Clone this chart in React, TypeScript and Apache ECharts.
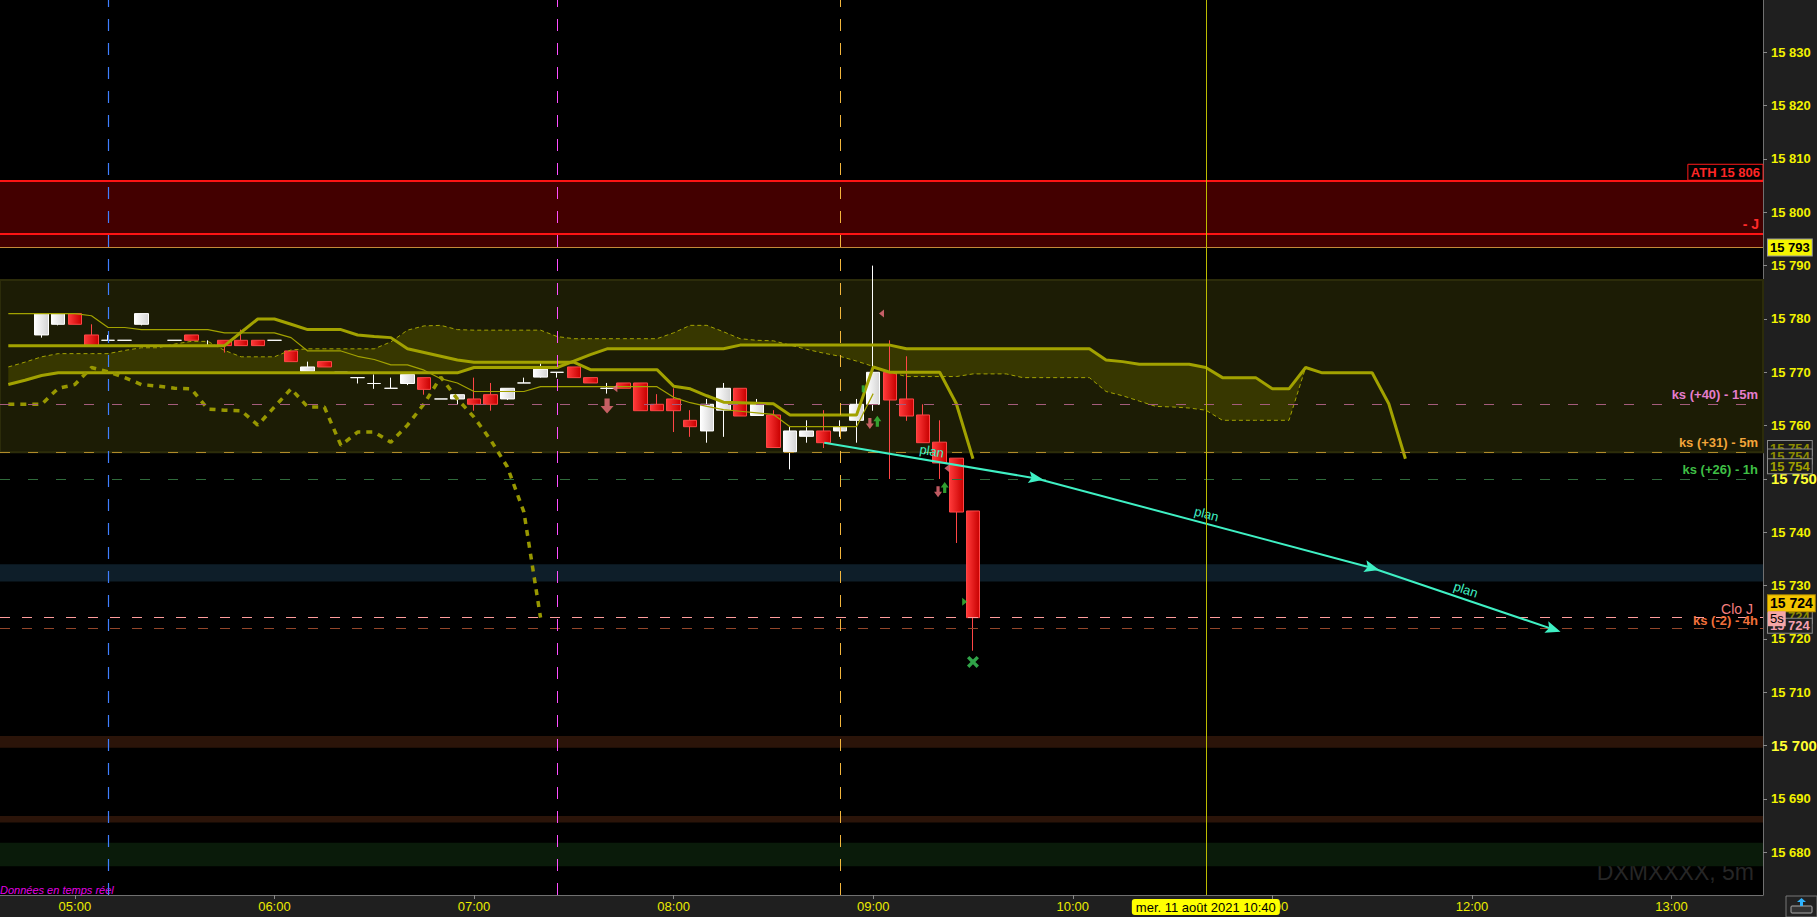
import React, { useEffect, useRef } from "react";
import * as echarts from "echarts";

// ---------------- data ----------------
const FIRST_SLOT = "04:40";
const SLOT_MINUTES = 5;
const SLOT_COUNT = 106;
const HOUR_LABELS = ["05:00", "06:00", "07:00", "08:00", "09:00", "10:00", "11:00", "12:00", "13:00"];
const Y_MIN = 15672;
const Y_MAX = 15839.8;
const EMPH_TICKS = [15700, 15750];

// candles [open, close, low, high] every 5 minutes from CANDLE_START
const CANDLE_START = "04:50";
const CANDLES: number[][] = [
  [15777, 15781, 15776.5, 15781],
  [15779, 15781, 15778.8, 15781],
  [15781, 15779, 15779, 15781],
  [15777, 15775, 15775, 15779],
  [15776, 15776, 15776, 15777],
  [15776, 15776, 15776, 15776],
  [15779, 15781, 15778.8, 15781],
  [15775, 15775, 15775, 15775],
  [15776, 15776, 15776, 15776],
  [15777, 15776, 15776, 15777],
  [15775, 15775, 15775, 15776],
  [15776, 15775, 15773.7, 15776],
  [15776, 15775, 15775, 15778],
  [15776, 15775, 15775, 15776],
  [15776, 15776, 15776, 15776],
  [15774, 15772, 15772, 15774],
  [15770.2, 15771, 15770.2, 15772],
  [15772, 15771, 15771, 15772],
  [15770, 15770, 15770, 15770],
  [15769, 15769, 15767.9, 15769],
  [15767.9, 15767.9, 15766.9, 15769.6],
  [15767, 15767, 15767, 15769],
  [15767.9, 15769.6, 15767.6, 15769.6],
  [15769, 15766.8, 15765.8, 15769],
  [15765, 15765, 15765, 15765],
  [15765, 15765.8, 15764, 15765.8],
  [15765, 15764, 15762.8, 15769],
  [15765.8, 15764, 15762.8, 15768],
  [15765, 15767, 15764.8, 15767],
  [15768, 15768, 15768, 15769],
  [15769.1, 15770.6, 15769, 15771.7],
  [15770, 15770, 15769, 15770],
  [15771, 15769, 15769, 15771],
  [15769, 15768, 15768, 15769],
  [15767, 15767, 15766, 15768],
  [15768, 15767, 15767, 15768],
  [15768, 15762.8, 15762.8, 15768],
  [15764, 15762.8, 15762.8, 15765.9],
  [15765, 15762.8, 15758.8, 15767],
  [15761, 15759.8, 15757.9, 15762.9],
  [15759, 15764, 15756.8, 15765],
  [15762.9, 15767, 15757.9, 15768],
  [15767, 15761.8, 15761.8, 15767],
  [15761.9, 15764, 15761.9, 15765],
  [15762, 15755.9, 15755.9, 15762.9],
  [15755.1, 15759, 15751.8, 15759.8],
  [15758, 15759, 15756.8, 15761],
  [15759, 15756.8, 15755.8, 15762.9],
  [15759, 15759.8, 15757.9, 15761],
  [15761, 15764, 15756.8, 15765],
  [15764, 15770, 15762.8, 15790],
  [15770, 15764.8, 15750, 15776],
  [15765, 15761.8, 15760.9, 15773],
  [15762, 15756.8, 15756.8, 15764],
  [15756.9, 15753, 15750, 15761],
  [15753.9, 15743.8, 15738, 15753.9],
  [15744, 15724, 15717.8, 15744],
];

// indicator lines, one value per 5-minute slot from FIRST_SLOT
const TENKAN = [
  15775, 15775, 15775, 15775, 15775, 15775, 15775, 15775, 15775, 15775, 15775, 15775, 15775, 15775,
  15777.5, 15780, 15780, 15779, 15778, 15778, 15778, 15777, 15776.7, 15776.5,
  15774.4, 15773.7, 15773, 15772.3,
  15771.9, 15771.9, 15771.9, 15771.9, 15771.9, 15771.9, 15771.9,
  15770.5, 15770.5, 15770.5, 15770.5, 15770.5,
  15767.4, 15766.9, 15765.6, 15764.4, 15764.3, 15764.2, 15764.1,
  15762, 15762, 15762, 15762, 15762,
  15771, 15770, 15770, 15770, 15770, 15764.1, 15753.8,
];
const KIJUN = [
  15781, 15781, 15781, 15781, 15781, 15780.6, 15778.4, 15778.4,
  15778, 15778, 15778, 15778, 15778, 15777.4, 15777.4, 15777.4, 15777.4, 15776.5,
  15774, 15774, 15774, 15773, 15772.4, 15771.4, 15771.4, 15770.4, 15768.8, 15768,
  15766.4, 15766.4, 15766.4, 15766.4,
  15767.3, 15767.3, 15767.3, 15767.3, 15767.3, 15767.3, 15767.3, 15767.3,
  15765.3, 15764.3, 15763.6, 15763, 15762.7, 15762.4, 15762.1,
  15759.8, 15759.8, 15759.8, 15759.8, 15759.8, 15766,
];
const SENKOU_A = [
  15767.7, 15768.5, 15769.4,
  15769.9, 15769.9, 15769.9, 15769.9, 15769.9, 15769.9, 15769.9, 15769.9, 15769.9, 15769.9,
  15769.9, 15769.9, 15769.9, 15769.9, 15769.9, 15769.9, 15769.9, 15769.9, 15769.9, 15769.9,
  15769.9, 15769.9, 15769.9, 15769.9, 15769.9,
  15770.9, 15770.9, 15770.9, 15770.9, 15770.9, 15770.9,
  15772.1, 15773.3,
  15774.4, 15774.4, 15774.4, 15774.4, 15774.4, 15774.4, 15774.4, 15774.4,
  15775.1, 15775.1, 15775.1, 15775.1, 15775.1, 15775.1, 15775.1, 15775.1, 15775.1, 15775.1,
  15774.4, 15774.4, 15774.4, 15774.4, 15774.4, 15774.4, 15774.4, 15774.4, 15774.4, 15774.4, 15774.4, 15774.4,
  15772.3, 15772,
  15771.5, 15771.5, 15771.5, 15771.5,
  15770.9, 15769, 15769, 15769, 15766.9, 15766.9, 15770.9,
  15769.9, 15769.9, 15769.9, 15769.9, 15764.1, 15753.8,
];
const SENKOU_B = [
  15771, 15771.9, 15772.9, 15773.5, 15773.5, 15773.5, 15773.5, 15774.1, 15774.6, 15774.6,
  15775.3, 15775.8, 15775.8, 15774.1, 15772.9, 15772.9, 15772.9, 15774.2,
  15774.4, 15774.4, 15774.4, 15774.4, 15774.4, 15775.7, 15777.9, 15778.7, 15778.8, 15778,
  15777.9, 15777.9, 15777.9, 15777.9, 15777.9, 15776.7,
  15776.3, 15776.3, 15776.3, 15776.3, 15776.3, 15776.3,
  15777.4, 15778.8, 15778.8, 15777.6, 15776.3, 15776, 15775.9, 15775.1, 15774.3, 15773.6,
  15773, 15772.1, 15771.1, 15770, 15769.2, 15769.2, 15769.2, 15769.2, 15769.7, 15769.7,
  15769.7, 15769, 15769, 15769, 15769, 15769, 15766.4, 15765.6, 15764.6, 15763.6,
  15763.5, 15763.3, 15762.9, 15761, 15761, 15761, 15761, 15761, 15770.9,
];
const CHIKOU = [
  15764, 15764, 15764, 15767, 15767.7, 15770.9, 15770.1, 15769, 15767.7, 15767.4,
  15767, 15766.9, 15763.1, 15762.9, 15762.8, 15760.1, 15763.5, 15766.9, 15763.5, 15763.5,
  15756.3, 15758.8, 15758.8, 15756.9, 15760.1, 15764.1, 15769.1, 15765, 15761.6, 15757.3,
  15752.3, 15743.8, 15724,
];

// horizontal zones [from, to]
const BAND_LEVELS = [
  [15755, 15787.3],
  [15793.4, 15806],
  [15730.8, 15734],
  [15699.6, 15701.8],
  [15685.6, 15686.8],
  [15677.4, 15681.8],
];

// horizontal levels and their right-hand captions
const LEVEL_VALUES = [15806, 15796, 15793.4, 15764, 15755, 15750, 15724, 15722];
const LEVEL_TEXTS = ["ATH 15 806", "- J", "", "ks (+40) - 15m", "ks (+31) - 5m", "ks (+26) - 1h", "Clo J", "ks (-2) - 4h"];

// price tags on the axis
const TAG_VALUES = [15755.8, 15754.2, 15752.4, 15793.4, 15724.3, 15722.5, 15726.7, 15723.8];
const TAG_TEXTS = ["15 754", "15 754", "15 754", "15 793", "15 724", "15 724", "15 724", "5s"];

const VLINE_TIMES = ["05:10", "07:25", "08:50"];
const CROSSHAIR_TIME = "10:40";
const CROSSHAIR_TEXT = "mer. 11 août 2021 10:40";

// "plan" projection (x in 5-minute slots from FIRST_SLOT)
const PLAN_POINTS = [
  [49.06, 15756.8],
  [61.8, 15750.1],
  [82.0, 15733.3],
  [92.9, 15721.8],
];
const PLAN_TEXT = "plan";

const BIG_DOWN_ARROWS = [[36.0, 15763.7]];
const SMALL_DOWN_ARROWS = [[51.8, 15760.4], [55.9, 15747.6]];
const SMALL_UP_ARROWS = [[52.25, 15760.8], [56.3, 15748.4]];
const COUNT_MARKS = [[51.96, 15757.6, "2"], [55.97, 15744.7, "2"]];
const LEFT_TRIANGLES = [[52.5, 15781], [56.43, 15752], [36.47, 15767]];
const RIGHT_TRIANGLES = [[57.5, 15727]];
const CROSS_MARKS = [[58.0, 15715.7]];
const GREEN_TICKS = [[51.4, 15766.9]];

const WATERMARK = "DXMXXXX, 5m";
const STATUS_TEXT = "Données en temps réel";

// ---------------- helpers & styles ----------------
const FONT = '"Liberation Sans", Arial, sans-serif';
const pad2 = (n: number) => String(n).padStart(2, "0");
const CATEGORIES: string[] = (() => {
  const [h, m] = FIRST_SLOT.split(":").map(Number);
  const start = h * 60 + m;
  return Array.from({ length: SLOT_COUNT }, (_, i) => {
    const t = start + i * SLOT_MINUTES;
    return `${pad2(Math.floor(t / 60))}:${pad2(t % 60)}`;
  });
})();
const fmtPrice = (v: number) => {
  const s = String(Math.round(v));
  return s.slice(0, s.length - 3) + " " + s.slice(-3);
};

const OLIVE = "#a2a200";
const BAND_COLORS = ["#1c1c05", "#430000", "#0e1e29", "#2b1409", "#2b1409", "#0a1b0a"];
const LEVEL_LINE_STYLES: any[] = [
  { color: "#ff1414", width: 2, type: "solid" },
  { color: "#ff1414", width: 2, type: "solid" },
  { color: "#c48a3a", width: 1, type: "solid" },
  { color: "#a45c7c", width: 1, type: [10, 18] },
  { color: "#b08a2a", width: 1.2, type: [10, 18] },
  { color: "#2f6b3b", width: 1, type: [10, 18] },
  { color: "#ff9c9c", width: 1, type: [10, 12] },
  { color: "#93462a", width: 1, type: [10, 12] },
];
const boldLbl = { fontWeight: "bold", fontSize: 13, fontFamily: FONT };
const LEVEL_LABEL_STYLES: any[] = [
  { ...boldLbl, color: "#ff2626", borderColor: "#ff1a1a", borderWidth: 1, padding: [2, 3, 1, 3], distance: [0, 0] },
  { ...boldLbl, fontSize: 14, color: "#ff2a2a", distance: [4, 3] },
  null,
  { ...boldLbl, color: "#e57dcd", distance: [5, 3] },
  { ...boldLbl, color: "#f2a53a", distance: [5, 3] },
  { ...boldLbl, color: "#3fbf45", distance: [5, 3] },
  { fontSize: 14, fontFamily: FONT, color: "#f47f7f", distance: [10, 3], lineHeight: 11 },
  { ...boldLbl, color: "#f2703a", distance: [5, 3], lineHeight: 10 },
];
const tagOlive = { color: "#8c8c00", backgroundColor: "#1b1b1b", borderColor: "#8a8a8a", borderWidth: 1, padding: [1, 2, 0, 2] };
const TAG_STYLES: any[] = [
  tagOlive,
  tagOlive,
  { ...tagOlive, color: "#a0a000" },
  { color: "#000", backgroundColor: "#f4f400", borderColor: "#9a9a9a", borderWidth: 1, padding: [2, 2, 1, 2] },
  tagOlive,
  { color: "#f4a0b0", backgroundColor: "#202020", borderColor: "#8a8a8a", borderWidth: 1, padding: [1, 2, 0, 2] },
  { color: "#000", backgroundColor: "#f3c400", borderColor: "#b08a00", borderWidth: 1, padding: [2, 2, 1, 2], fontSize: 14 },
  { color: "#000", backgroundColor: "#f6a6a6", borderWidth: 0, padding: [1, 2, 1, 2], fontWeight: "normal" },
];
const VLINE_STYLES: any[] = [
  { color: "#3f7fff", width: 1.2, type: [12, 12] },
  { color: "#ff4dff", width: 1, type: [12, 12] },
  { color: "#f2b53c", width: 1, type: [12, 12] },
];

const ARROW_DOWN = "path://M3,0H7V5H10L5,10L0,5H3Z";
const ARROW_UP = "path://M5,0L10,5H7V10H3V5H0Z";
const TRI_LEFT = "path://M10,0V10L0,5Z";
const TRI_RIGHT = "path://M0,0L10,5L0,10Z";
const CROSS = "path://M2,0L5,3L8,0L10,2L7,5L10,8L8,10L5,7L2,10L0,8L3,5L0,2Z";
const PLAN_HEAD = "path://M5,0L10,10L5,8L0,10Z";

function buildOption() {
  const candleOffset = CATEGORIES.indexOf(CANDLE_START);
  const candleData = CANDLES.map((c, k) => [candleOffset + k, ...c]);
  const cloudLen = Math.min(SENKOU_A.length, SENKOU_B.length);
  const cloudBase: number[] = [];
  const cloudSpan: number[] = [];
  for (let i = 0; i < cloudLen; i++) {
    cloudBase.push(Math.min(SENKOU_A[i], SENKOU_B[i]));
    cloudSpan.push(Math.abs(SENKOU_A[i] - SENKOU_B[i]));
  }
  const empty = CATEGORIES.map(() => null);
  const crossIdx = CATEGORIES.indexOf(CROSSHAIR_TIME);

  const bullFill = new echarts.graphic.LinearGradient(0, 0, 1, 0, [
    { offset: 0, color: "#ffffff" },
    { offset: 1, color: "#d4d4d4" },
  ]);
  const bearFill = new echarts.graphic.LinearGradient(0, 0, 1, 0, [
    { offset: 0, color: "#ff3a3a" },
    { offset: 1, color: "#c80000" },
  ]);

  const lineBase = { type: "line", symbol: "none", showSymbol: false, silent: true, connectNulls: false };

  return {
    animation: false,
    backgroundColor: "#1f1f1f",
    textStyle: { fontFamily: FONT },
    grid: {
      left: 0, right: 54, top: 0, bottom: 22,
      show: true, backgroundColor: "#000000", borderWidth: 0,
      containLabel: false, outerBoundsMode: "none",
    },
    xAxis: [
      {
        type: "category",
        data: CATEGORIES,
        boundaryGap: true,
        axisLine: { show: true, onZero: false, lineStyle: { color: "#707070", width: 1 } },
        axisTick: {
          show: true, length: 4, alignWithLabel: true,
          interval: (_i: number, v: string) => HOUR_LABELS.includes(v),
          lineStyle: { color: "#8a8a8a" },
        },
        axisLabel: {
          interval: (_i: number, v: string) => HOUR_LABELS.includes(v),
          color: "#ecec00", fontSize: 13, margin: 5, fontFamily: FONT,
        },
        splitLine: { show: false },
        axisPointer: {
          show: true, type: "line", status: "show", value: crossIdx, snap: false, triggerTooltip: false,
          lineStyle: { color: "#bcbc00", width: 1, type: "solid" },
          label: {
            show: true, formatter: () => CROSSHAIR_TEXT,
            backgroundColor: "#ffff00", color: "#000", fontSize: 13, fontFamily: FONT,
            padding: [2, 4, 1, 4], margin: 4, borderWidth: 0, shadowBlur: 0,
          },
        },
      },
      { type: "value", min: -0.5, max: SLOT_COUNT - 0.5, show: false },
    ],
    yAxis: [
      {
        type: "value", position: "right", min: Y_MIN, max: Y_MAX,
        splitNumber: 17, minInterval: 10, maxInterval: 10,
        axisLine: { show: true, onZero: false, lineStyle: { color: "#707070", width: 1 } },
        axisTick: { show: true, length: 4, lineStyle: { color: "#8a8a8a" } },
        splitLine: { show: false },
        axisLabel: {
          color: "#f2f200", fontWeight: "bold", fontSize: 13, fontFamily: FONT, margin: 8,
          showMinLabel: false, showMaxLabel: false,
          formatter: (v: number) => (EMPH_TICKS.includes(v) ? `{em|${fmtPrice(v)}}` : fmtPrice(v)),
          rich: { em: { fontSize: 15, fontWeight: "bold", color: "#ffff30", fontFamily: FONT } },
        },
      },
    ],
    series: [
      {
        ...lineBase, name: "zones", data: empty, z: 0, lineStyle: { opacity: 0 },
        markArea: {
          silent: true,
          data: BAND_LEVELS.map(([a, b], k) => [
            {
              yAxis: a,
              itemStyle: k === 0
                ? { color: BAND_COLORS[k], borderColor: "#2c2c0a", borderWidth: 2 }
                : { color: BAND_COLORS[k] },
            },
            { yAxis: b },
          ]),
        },
      },
      { ...lineBase, name: "cloudBase", data: cloudBase, stack: "kumo", z: 1, lineStyle: { opacity: 0 } },
      {
        ...lineBase, name: "cloud", data: cloudSpan, stack: "kumo", z: 1,
        lineStyle: { opacity: 0 }, areaStyle: { color: "#373700", opacity: 1 },
      },
      {
        ...lineBase, name: "levels", data: empty, z: 2, lineStyle: { opacity: 0 },
        markLine: {
          silent: true, symbol: "none",
          data: LEVEL_VALUES.map((v, k) => ({
            yAxis: v,
            lineStyle: LEVEL_LINE_STYLES[k],
            label: LEVEL_LABEL_STYLES[k]
              ? { show: true, position: "insideEndTop", formatter: LEVEL_TEXTS[k], ...LEVEL_LABEL_STYLES[k] }
              : { show: false },
          })),
        },
      },
      {
        type: "candlestick", name: "DXM", data: candleData, z: 3, barWidth: 14, silent: true,
        encode: { x: 0, y: [1, 2, 3, 4] },
        itemStyle: {
          color: bullFill, color0: bearFill,
          borderColor: "#ffffff", borderColor0: "#ff4646", borderColorDoji: "#ffffff", borderWidth: 1,
        },
      },
      { ...lineBase, name: "senkouB", data: SENKOU_B, z: 4, lineStyle: { color: OLIVE, width: 1, type: [4, 3] } },
      { ...lineBase, name: "senkouA", data: SENKOU_A, z: 4, lineStyle: { color: OLIVE, width: 3 } },
      { ...lineBase, name: "kijun", data: KIJUN, z: 4, lineStyle: { color: OLIVE, width: 1.2 } },
      { ...lineBase, name: "tenkan", data: TENKAN, z: 4, lineStyle: { color: OLIVE, width: 3 } },
      { ...lineBase, name: "chikou", data: CHIKOU, z: 4, lineStyle: { color: "#979700", width: 3.5, type: [6, 6] } },
      {
        ...lineBase, name: "vlines", xAxisIndex: 1, data: [], z: 2, lineStyle: { opacity: 0 },
        markLine: {
          silent: true, symbol: "none", label: { show: false },
          data: VLINE_TIMES.map((t, k) => ({ xAxis: CATEGORIES.indexOf(t), lineStyle: VLINE_STYLES[k] })),
        },
      },
      {
        ...lineBase, name: "plan", xAxisIndex: 1, data: [], z: 6, lineStyle: { opacity: 0 },
        markLine: {
          silent: true, symbol: ["none", PLAN_HEAD], symbolSize: [12, 15],
          lineStyle: { color: "#3ff0c4", width: 2, type: "solid" },
          label: { show: true, position: "middle", formatter: PLAN_TEXT, color: "#3ff0c4", fontSize: 13, fontFamily: FONT, distance: 3 },
          data: PLAN_POINTS.slice(1).map((p, k) => [{ coord: PLAN_POINTS[k] }, { coord: p }]),
        },
      },
      {
        type: "scatter", name: "bigDown", xAxisIndex: 1, data: BIG_DOWN_ARROWS, z: 7, silent: true,
        symbol: ARROW_DOWN, symbolSize: [13, 15], itemStyle: { color: "#f0707a" },
      },
      {
        type: "scatter", name: "smallDown", xAxisIndex: 1, data: SMALL_DOWN_ARROWS, z: 7, silent: true,
        symbol: ARROW_DOWN, symbolSize: [8, 11], itemStyle: { color: "#f0707a" },
      },
      {
        type: "scatter", name: "smallUp", xAxisIndex: 1, data: SMALL_UP_ARROWS, z: 7, silent: true,
        symbol: ARROW_UP, symbolSize: [8, 11], itemStyle: { color: "#3cc43c" },
      },
      {
        type: "scatter", name: "leftTri", xAxisIndex: 1, data: LEFT_TRIANGLES, z: 7, silent: true,
        symbol: TRI_LEFT, symbolSize: [5, 8], itemStyle: { color: "#f07080" },
      },
      {
        type: "scatter", name: "rightTri", xAxisIndex: 1, data: RIGHT_TRIANGLES, z: 7, silent: true,
        symbol: TRI_RIGHT, symbolSize: [5, 8], itemStyle: { color: "#3cc43c" },
      },
      {
        type: "scatter", name: "cross", xAxisIndex: 1, data: CROSS_MARKS, z: 7, silent: true,
        symbol: CROSS, symbolSize: [12, 12], itemStyle: { color: "#3ccc5a" },
      },
      {
        type: "scatter", name: "greenTick", xAxisIndex: 1, data: GREEN_TICKS, z: 7, silent: true,
        symbol: "rect", symbolSize: [3, 7], itemStyle: { color: "#3cc43c" },
      },
      {
        type: "scatter", name: "counts", xAxisIndex: 1, data: COUNT_MARKS, z: 7, silent: true,
        symbolSize: 1, itemStyle: { opacity: 0 },
        label: {
          show: true, position: "inside", formatter: (p: any) => p.value[2],
          color: "#dfe8ff", fontSize: 12, fontFamily: FONT,
        },
      },
      {
        ...lineBase, name: "tags", data: empty, z: 10, clip: false, lineStyle: { opacity: 0 },
        markLine: {
          silent: true, symbol: "none",
          data: TAG_VALUES.map((v, k) => ({
            yAxis: v,
            lineStyle: { width: 1, color: "rgba(0,0,0,0)" },
            label: {
              show: true, position: "end", distance: 5, formatter: TAG_TEXTS[k],
              fontWeight: "bold", fontSize: 13, fontFamily: FONT, lineHeight: 13, ...TAG_STYLES[k],
            },
          })),
        },
      },
    ],
    graphic: [
      {
        type: "text", x: 0, y: 884, z: 5, silent: true,
        style: { text: STATUS_TEXT, fill: "#e600e6", fontSize: 11, fontStyle: "italic", fontFamily: FONT },
      },
      {
        type: "text", x: 1754, y: 860, z: 1, silent: true,
        style: { text: WATERMARK, fill: "#262626", fontSize: 23, fontFamily: FONT, align: "right" },
      },
      {
        type: "group", x: 1786, y: 896, silent: true,
        children: [
          { type: "rect", shape: { x: 0, y: 0, width: 31, height: 21 }, style: { fill: "#222", stroke: "#777", lineWidth: 1 } },
          { type: "rect", shape: { x: 5, y: 10, width: 21, height: 7, r: 1 }, style: { fill: "#333", stroke: "#aaa", lineWidth: 1 } },
          { type: "polygon", shape: { points: [[15.5, 2], [20, 6], [17, 6], [17, 10], [14, 10], [14, 6], [11, 6]] }, style: { fill: "#2fb4ff" } },
        ],
      },
    ],
  };
}

export default function App() {
  const ref = useRef<HTMLDivElement>(null);
  useEffect(() => {
    document.body.style.margin = "0";
    document.body.style.overflow = "hidden";
    if (!ref.current) return;
    const chart = echarts.init(ref.current, null, { renderer: "svg" });
    chart.setOption(buildOption() as any);
    return () => chart.dispose();
  }, []);
  return <div ref={ref} style={{ width: 1817, height: 917, background: "#1f1f1f" }} />;
}
